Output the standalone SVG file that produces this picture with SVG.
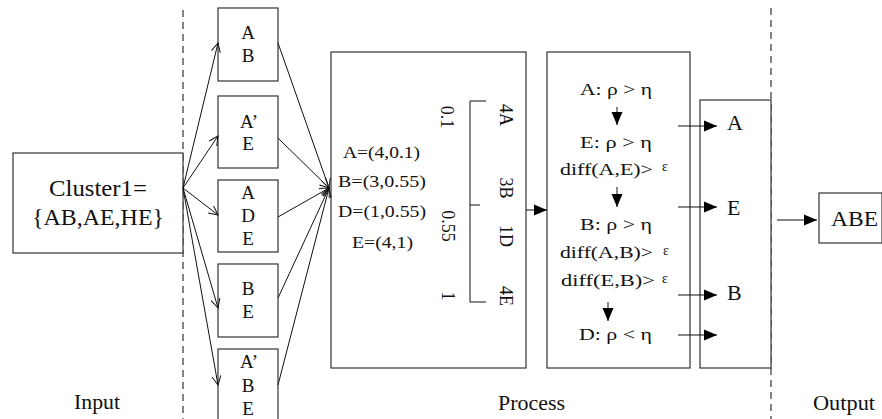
<svg xmlns="http://www.w3.org/2000/svg" width="882" height="419" viewBox="0 0 882 419">
  <defs>
    <style>
      .box { fill: #fff; stroke: #333; stroke-width: 1.2; }
      .ln { fill: none; stroke: #111; stroke-width: 1; }
      .dash { fill: none; stroke: #444; stroke-width: 1.3; stroke-dasharray: 7 5; }
      text { font-family: "Liberation Serif", "Times New Roman", serif; fill: #111; }
      .t17 { font-size: 17px; }
      .t19 { font-size: 19px; }
      .t22 { font-size: 22px; }
      .t23 { font-size: 23px; }
      .t21 { font-size: 21px; }
      .eps { font-size: 14px; }
      .mid { text-anchor: middle; }
      .rot { font-size: 18px; text-anchor: middle; dominant-baseline: central; }
    </style>
    <marker id="open" viewBox="-10 -6 12 12" markerWidth="12" markerHeight="12" markerUnits="userSpaceOnUse" refX="0" refY="0" orient="auto">
      <path d="M-9,-4.5 L0,0 L-9,4.5" fill="none" stroke="#111" stroke-width="1"/>
    </marker>
    <marker id="solid" viewBox="-14 -7 15 14" markerWidth="15" markerHeight="14" markerUnits="userSpaceOnUse" refX="0" refY="0" orient="auto">
      <path d="M-13,-5.5 L0,0 L-13,5.5 Z" fill="#000"/>
    </marker>
  </defs>

  <rect width="882" height="419" fill="#fff"/>

  <!-- section separators -->
  <line class="dash" x1="183" y1="10" x2="183" y2="419"/>
  <line class="dash" x1="771" y1="8" x2="771" y2="419"/>

  <!-- input cluster -->
  <g id="cluster">
    <rect class="box" x="13" y="153" width="170" height="100"/>
    <text class="t23" x="49" y="196" textLength="98" lengthAdjust="spacingAndGlyphs">Cluster1=</text>
    <text class="t23" x="32" y="225" textLength="132" lengthAdjust="spacingAndGlyphs">{AB,AE,HE}</text>
  </g>

  <!-- candidate subsets -->
  <g id="sub-ab">
    <rect class="box" x="218" y="8" width="60" height="73"/>
    <text class="t19 mid" x="248" y="39">A</text>
    <text class="t19 mid" x="248" y="62">B</text>
  </g>
  <g id="sub-ae">
    <rect class="box" x="218" y="96" width="60" height="72"/>
    <text class="t19 mid" x="249" y="128">A’</text>
    <text class="t19 mid" x="248" y="150">E</text>
  </g>
  <g id="sub-ade">
    <rect class="box" x="218" y="180" width="60" height="72"/>
    <text class="t19 mid" x="248" y="199">A</text>
    <text class="t19 mid" x="248" y="222">D</text>
    <text class="t19 mid" x="248" y="245">E</text>
  </g>
  <g id="sub-be">
    <rect class="box" x="218" y="264" width="60" height="73"/>
    <text class="t19 mid" x="248" y="295">B</text>
    <text class="t19 mid" x="248" y="318">E</text>
  </g>
  <g id="sub-abe">
    <rect class="box" x="218" y="349" width="60" height="80"/>
    <text class="t19 mid" x="249" y="368">A’</text>
    <text class="t19 mid" x="248" y="392">B</text>
    <text class="t19 mid" x="248" y="415">E</text>
  </g>

  <!-- scoring box -->
  <g id="score">
    <rect class="box" x="331" y="52" width="195" height="316"/>
    <text class="t17" x="343" y="158" textLength="77" lengthAdjust="spacingAndGlyphs">A=(4,0.1)</text>
    <text class="t17" x="338" y="187" textLength="88" lengthAdjust="spacingAndGlyphs">B=(3,0.55)</text>
    <text class="t17" x="338" y="217" textLength="88" lengthAdjust="spacingAndGlyphs">D=(1,0.55)</text>
    <text class="t17" x="352" y="248" textLength="61" lengthAdjust="spacingAndGlyphs">E=(4,1)</text>
    <path class="ln" d="M486,101 H470 V302 H486 M470,205 H480"/>
    <text class="rot" transform="translate(447,117) rotate(90)">0.1</text>
    <text class="rot" transform="translate(448,226) rotate(90)">0.55</text>
    <text class="rot" transform="translate(448,296) rotate(90)">1</text>
    <text class="rot" transform="translate(506,115) rotate(90)">4A</text>
    <text class="rot" transform="translate(506,188) rotate(90)">3B</text>
    <text class="rot" transform="translate(506,236) rotate(90)">1D</text>
    <text class="rot" transform="translate(506,296) rotate(90)">4E</text>
  </g>

  <!-- selection rules -->
  <g id="rules">
    <rect class="box" x="547" y="52" width="143" height="316"/>
    <text class="t17" x="580" y="95" textLength="72" lengthAdjust="spacingAndGlyphs">A: ρ &gt; η</text>
    <text class="t17" x="580" y="148" textLength="72" lengthAdjust="spacingAndGlyphs">E: ρ &gt; η</text>
    <text class="t17" x="560" y="175" textLength="93" lengthAdjust="spacingAndGlyphs">diff(A,E)&gt;</text>
    <text class="eps mid" x="665" y="171">ε</text>
    <text class="t17" x="580" y="230" textLength="72" lengthAdjust="spacingAndGlyphs">B: ρ &gt; η</text>
    <text class="t17" x="560" y="258" textLength="93" lengthAdjust="spacingAndGlyphs">diff(A,B)&gt;</text>
    <text class="eps mid" x="666" y="255">ε</text>
    <text class="t17" x="561" y="286" textLength="94" lengthAdjust="spacingAndGlyphs">diff(E,B)&gt;</text>
    <text class="eps mid" x="665" y="283">ε</text>
    <text class="t17" x="579" y="340" textLength="73" lengthAdjust="spacingAndGlyphs">D: ρ &lt; η</text>
  </g>

  <!-- kept items -->
  <g id="kept">
    <rect class="box" x="700" y="100" width="71" height="268"/>
    <text class="t22" x="727" y="130">A</text>
    <text class="t22" x="727" y="215">E</text>
    <text class="t22" x="727" y="300">B</text>
  </g>

  <!-- result -->
  <g id="result">
    <rect class="box" x="819" y="193" width="63" height="50"/>
    <text class="t22" x="831" y="226" textLength="47" lengthAdjust="spacingAndGlyphs">ABE</text>
  </g>

  <!-- stage captions -->
  <g id="captions">
    <text class="t21" x="74" y="409" textLength="46" lengthAdjust="spacingAndGlyphs">Input</text>
    <text class="t21" x="498" y="410" textLength="67" lengthAdjust="spacingAndGlyphs">Process</text>
    <text class="t21" x="813" y="410" textLength="62" lengthAdjust="spacingAndGlyphs">Output</text>
  </g>

  <!-- connectors -->
  <g id="connectors">
    <!-- fan-out to subsets -->
    <line class="ln" x1="183" y1="188" x2="218" y2="43" marker-end="url(#open)"/>
    <line class="ln" x1="183" y1="188" x2="218" y2="136" marker-end="url(#open)"/>
    <line class="ln" x1="183" y1="188" x2="218" y2="215" marker-end="url(#open)"/>
    <line class="ln" x1="183" y1="188" x2="218" y2="308" marker-end="url(#open)"/>
    <line class="ln" x1="183" y1="188" x2="218" y2="385" marker-end="url(#open)"/>
    <!-- fan-in to scoring -->
    <line class="ln" x1="278" y1="43" x2="329" y2="188" marker-end="url(#open)"/>
    <line class="ln" x1="278" y1="138" x2="329" y2="188" marker-end="url(#open)"/>
    <line class="ln" x1="278" y1="217" x2="329" y2="188" marker-end="url(#open)"/>
    <line class="ln" x1="278" y1="298" x2="329" y2="188" marker-end="url(#open)"/>
    <line class="ln" x1="278" y1="385" x2="329" y2="188" marker-end="url(#open)"/>
    <!-- scoring to rules -->
    <line class="ln" x1="526" y1="210" x2="547" y2="210" marker-end="url(#solid)"/>
    <!-- rule sequence -->
    <line class="ln" x1="617" y1="107" x2="617" y2="125" marker-end="url(#solid)"/>
    <line class="ln" x1="617" y1="187" x2="617" y2="207" marker-end="url(#solid)"/>
    <line class="ln" x1="608" y1="302" x2="608" y2="321" marker-end="url(#solid)"/>
    <!-- rules to kept -->
    <line class="ln" x1="678" y1="126" x2="717" y2="126" marker-end="url(#solid)"/>
    <line class="ln" x1="678" y1="207" x2="717" y2="207" marker-end="url(#solid)"/>
    <line class="ln" x1="678" y1="295" x2="717" y2="295" marker-end="url(#solid)"/>
    <line class="ln" x1="678" y1="335" x2="717" y2="335" marker-end="url(#solid)"/>
    <!-- kept to result -->
    <line class="ln" x1="777" y1="220" x2="817" y2="220" marker-end="url(#solid)"/>
  </g>
</svg>
